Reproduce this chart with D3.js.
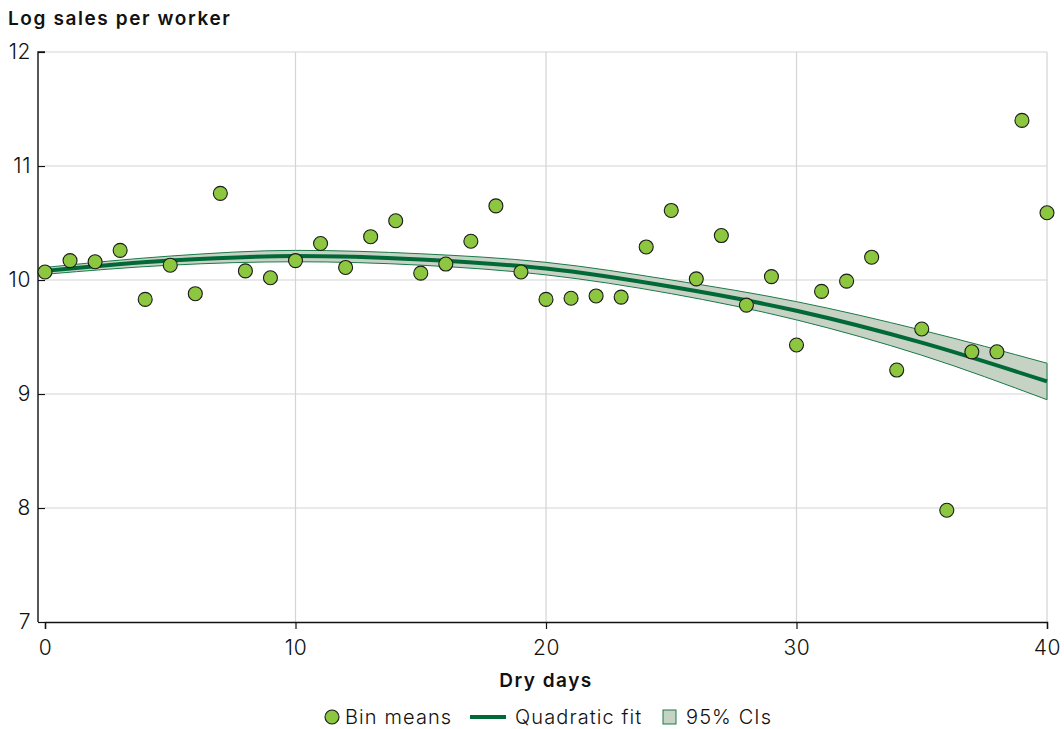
<!DOCTYPE html>
<html>
<head>
<meta charset="utf-8">
<script src="https://cdn.jsdelivr.net/npm/d3@7/dist/d3.min.js"></script>
<style>
  body { margin: 0; background: #fff; }
  svg { display: block; font-family: "Inter", "Lato", sans-serif; }
</style>
</head>
<body>
<svg id="chart" width="1064" height="729"></svg>
<script>
// Bin means of log sales per worker by number of dry days
const dryDays = [0,1,2,3,4,5,6,7,8,9,10,11,12,13,14,15,16,17,18,19,20,21,22,23,24,25,26,27,28,29,30,31,32,33,34,35,36,37,38,39,40];
const binMeans = [10.07,10.17,10.16,10.26,9.83,10.13,9.88,10.76,10.08,10.02,10.17,10.32,10.11,10.38,10.52,10.06,10.14,10.34,10.65,10.07,
                  9.83,9.84,9.86,9.85,10.29,10.61,10.01,10.39,9.78,10.03,9.43,9.90,9.99,10.20,9.21,9.57,7.98,9.37,9.37,11.40,10.59];

// Quadratic fit and its 95% confidence band, sampled along the x range
const fitX = [0, 5, 10, 15, 20, 25, 30, 35, 40];
const fitY = [10.08, 10.17, 10.21, 10.18, 10.10, 9.94, 9.73, 9.45, 9.11];
const ciLow = [10.05, 10.13, 10.16, 10.13, 10.045, 9.88, 9.65, 9.34, 8.95];
const ciHigh = [10.11, 10.21, 10.26, 10.23, 10.155, 10.00, 9.81, 9.56, 9.27];

const xTicks = [0, 10, 20, 30, 40];
const yTicks = [7, 8, 9, 10, 11, 12];

const svg = d3.select("#chart");
const margin = { left: 45, right: 17, top: 52, bottom: 107 };
const W = 1064, H = 729;

const x = d3.scaleLinear().domain([0, 40]).range([margin.left, W - margin.right]);
const y = d3.scaleLinear().domain([7, 12]).range([H - margin.bottom, margin.top]);

// Gridlines
svg.append("g").selectAll("line.h").data(yTicks.filter(d => d > 7)).join("line")
  .attr("x1", x(0)).attr("x2", x(40)).attr("y1", d => y(d)).attr("y2", d => y(d))
  .attr("stroke", "#d4d4d4").attr("stroke-width", 1.2);
svg.append("g").selectAll("line.v").data(xTicks.filter(d => d > 0)).join("line")
  .attr("x1", d => x(d)).attr("x2", d => x(d)).attr("y1", y(7)).attr("y2", y(12))
  .attr("stroke", "#d4d4d4").attr("stroke-width", 1.2);

// Axes
const yAxis = svg.append("g").attr("transform", `translate(${x(0)},0)`)
  .call(d3.axisLeft(y).tickValues(yTicks).tickSize(7).tickPadding(7).tickFormat(d3.format("d")));
const xAxis = svg.append("g").attr("transform", `translate(0,${y(7)})`)
  .call(d3.axisBottom(x).tickValues(xTicks).tickSize(7).tickPadding(11).tickFormat(d3.format("d")));
[yAxis, xAxis].forEach(g => {
  g.select(".domain").attr("stroke", "#111").attr("stroke-width", 1.4);
  g.selectAll(".tick line").attr("stroke", "#111").attr("stroke-width", 1.2);
  g.selectAll(".tick text").attr("fill", "#111").style("font-size", "21px")
    .style("font-family", "Inter, sans-serif").style("font-weight", 300).style("letter-spacing", "0.6px");
});
yAxis.select(".domain").attr("d", `M0,${y(12)}H-7V${y(12)}V${y(7)}`);

// Confidence band
const band = fitX.map((d, i) => ({ x: d, lo: ciLow[i], hi: ciHigh[i] }));
svg.append("path").datum(band)
  .attr("d", d3.area().x(d => x(d.x)).y0(d => y(d.lo)).y1(d => y(d.hi)).curve(d3.curveMonotoneX))
  .attr("fill", "#c6d2c4").attr("stroke", "#1a7a47").attr("stroke-width", 1);

// Fitted curve
svg.append("path").datum(fitX.map((d, i) => ({ x: d, y: fitY[i] })))
  .attr("d", d3.line().x(d => x(d.x)).y(d => y(d.y)).curve(d3.curveMonotoneX))
  .attr("fill", "none").attr("stroke", "#006937").attr("stroke-width", 4);

// Bin means
svg.append("g").selectAll("circle").data(dryDays).join("circle")
  .attr("cx", d => x(d)).attr("cy", (d, i) => y(binMeans[i])).attr("r", 7)
  .attr("fill", "#8dc63f").attr("stroke", "#1a1a1a").attr("stroke-width", 1.1);

// Titles
svg.append("text").attr("x", 8).attr("y", 25).text("Log sales per worker")
  .attr("fill", "#111").style("font-size", "19px").style("font-weight", 600).style("letter-spacing", "1.6px");
svg.append("text").attr("x", x(20)).attr("y", 687).attr("text-anchor", "middle").text("Dry days")
  .attr("fill", "#111").style("font-size", "19px").style("font-weight", 600).style("letter-spacing", "1.5px");

// Legend
const leg = svg.append("g").attr("transform", "translate(0,717)");
leg.append("circle").attr("cx", 332).attr("cy", 0).attr("r", 7)
  .attr("fill", "#8dc63f").attr("stroke", "#1a1a1a").attr("stroke-width", 1.1);
leg.append("text").attr("x", 345).attr("y", 0).text("Bin means");
leg.append("line").attr("x1", 470).attr("x2", 506).attr("y1", 0).attr("y2", 0)
  .attr("stroke", "#006937").attr("stroke-width", 4);
leg.append("text").attr("x", 515).attr("y", 0).text("Quadratic fit");
leg.append("rect").attr("x", 663).attr("y", -7).attr("width", 13).attr("height", 14)
  .attr("fill", "#c6d2c4").attr("stroke", "#1a7a47").attr("stroke-width", 1);
leg.append("text").attr("x", 686).attr("y", 0).text("95% CIs");
leg.selectAll("text").attr("fill", "#111").attr("dominant-baseline", "central")
  .style("font-size", "20px").style("font-weight", 300).style("letter-spacing", "1.1px");
</script>
</body>
</html>
